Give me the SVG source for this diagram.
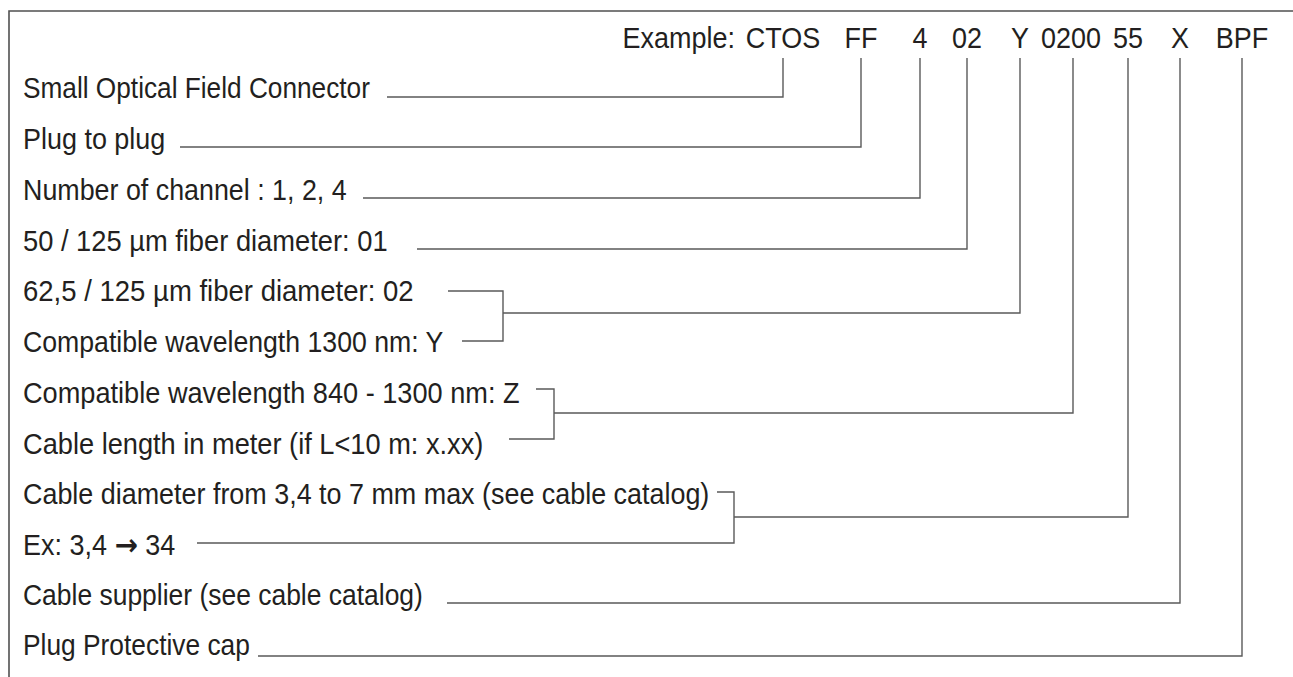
<svg xmlns="http://www.w3.org/2000/svg" width="1293" height="677" viewBox="0 0 1293 677">
<style>
text{font-family:"Liberation Sans",Arial,sans-serif;font-size:29px;fill:#231f20}
.c{text-anchor:middle}
.e{text-anchor:end}
.ar{font-family:"DejaVu Sans",sans-serif;font-weight:bold;font-size:30px}
.ln{fill:none;stroke:#5a5a5a;stroke-width:1.4}
.fr{fill:none;stroke:#505050;stroke-width:1.6}
</style>
<rect width="1293" height="677" fill="#fff"/>
<path class="fr" d="M9,677 V11 H1293"/>
<g id="header">
<text class="e" transform="translate(735,48) scale(0.93,1)">Example:</text>
<text class="c" transform="translate(783,48) scale(0.93,1)">CTOS</text>
<text class="c" transform="translate(861,48) scale(0.93,1)">FF</text>
<text class="c" transform="translate(920,48) scale(0.93,1)">4</text>
<text class="c" transform="translate(967,48) scale(0.93,1)">02</text>
<text class="c" transform="translate(1020,48) scale(0.93,1)">Y</text>
<text class="c" transform="translate(1071,48) scale(0.93,1)">0200</text>
<text class="c" transform="translate(1128,48) scale(0.93,1)">55</text>
<text class="c" transform="translate(1180,48) scale(0.93,1)">X</text>
<text class="c" transform="translate(1242,48) scale(0.93,1)">BPF</text>
</g>
<g id="n1"><text transform="translate(23,98) scale(0.93,1)" textLength="373" lengthAdjust="spacingAndGlyphs">Small Optical Field Connector</text></g>
<g id="n2"><text transform="translate(23,149) scale(0.93,1)" textLength="153" lengthAdjust="spacingAndGlyphs">Plug to plug</text></g>
<g id="n3"><text transform="translate(23,200) scale(0.93,1)" textLength="348" lengthAdjust="spacingAndGlyphs">Number of channel : 1, 2, 4</text></g>
<g id="n4"><text transform="translate(23,251) scale(0.93,1)" textLength="392" lengthAdjust="spacingAndGlyphs">50 / 125 µm fiber diameter: 01</text></g>
<g id="n5"><text transform="translate(23,301) scale(0.93,1)" textLength="420" lengthAdjust="spacingAndGlyphs">62,5 / 125 µm fiber diameter: 02</text></g>
<g id="n6"><text transform="translate(23,352) scale(0.93,1)" textLength="452" lengthAdjust="spacingAndGlyphs">Compatible wavelength 1300 nm: Y</text></g>
<g id="n7"><text transform="translate(23,403) scale(0.93,1)" textLength="534" lengthAdjust="spacingAndGlyphs">Compatible wavelength 840 - 1300 nm: Z</text></g>
<g id="n8"><text transform="translate(23,454) scale(0.93,1)" textLength="495" lengthAdjust="spacingAndGlyphs">Cable length in meter (if L&lt;10 m: x.xx)</text></g>
<g id="n9"><text transform="translate(23,504) scale(0.93,1)" textLength="738" lengthAdjust="spacingAndGlyphs">Cable diameter from 3,4 to 7 mm max (see cable catalog)</text></g>
<g id="n10"><text transform="translate(23,555) scale(0.93,1)">Ex: 3,4 <tspan class="ar">→</tspan> 34</text></g>
<g id="n11"><text transform="translate(23,605) scale(0.93,1)" textLength="430" lengthAdjust="spacingAndGlyphs">Cable supplier (see cable catalog)</text></g>
<g id="n12"><text transform="translate(23,655) scale(0.93,1)" textLength="244" lengthAdjust="spacingAndGlyphs">Plug Protective cap</text></g>
<g id="connectors">
<path class="ln" d="M387,97 H783 V58"/>
<path class="ln" d="M180,147 H861 V58"/>
<path class="ln" d="M363,198 H920 V58"/>
<path class="ln" d="M417,249 H967 V58"/>
<path class="ln" d="M448,291 H503 V341 H462 M503,313 H1020 V58"/>
<path class="ln" d="M536,389 H554 V439 H509 M554,413 H1073 V58"/>
<path class="ln" d="M717,492 H734 V543 H197 M734,517 H1128 V58"/>
<path class="ln" d="M447,603 H1180 V58"/>
<path class="ln" d="M258,656 H1242 V58"/>
</g>
</svg>
